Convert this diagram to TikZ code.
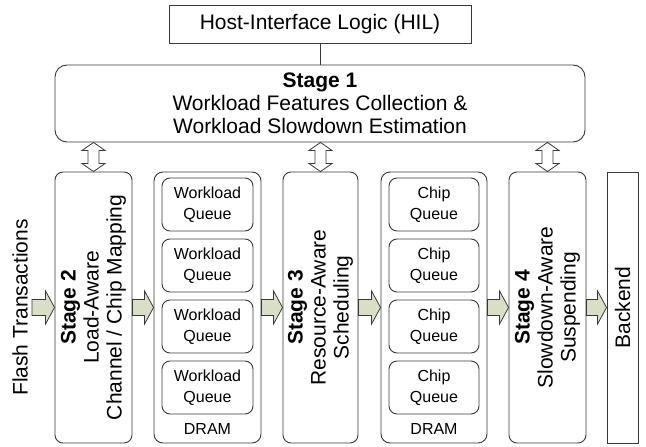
\documentclass[tikz,border=0pt]{standalone}
\usepackage{fontspec}
\setmainfont{Liberation Sans}
\usetikzlibrary{calc}
\definecolor{arrowgreen}{HTML}{D8DFC6}
\definecolor{edgegray}{HTML}{383838}

\tikzset{
  box/.style={draw=edgegray, line width=0.9pt, inner sep=0pt, align=center},
  stagebox/.style={box, rounded corners=8pt, minimum width=77pt, minimum height=271pt},
  drambox/.style={box, rounded corners=9pt, minimum width=107pt, minimum height=271pt},
  queuebox/.style={box, rounded corners=8pt, minimum width=91pt, minimum height=53pt,
    font=\fontsize{16}{21}\selectfont},
  vtext/.style={rotate=90, align=center, inner sep=0pt},
  fatarrow/.style={draw=edgegray, line width=0.8pt, fill=arrowgreen},
  twoway/.style={draw=edgegray, line width=0.8pt, fill=white},
}

\begin{document}
\begin{tikzpicture}[x=1pt, y=-1pt, font=\fontsize{21}{23}\selectfont]
\useasboundingbox (0,0) rectangle (646,447);

% top
\node[box, minimum width=302pt, minimum height=38pt] (hil) at (320,24) {Host-Interface Logic (HIL)};
\node[box, rounded corners=12pt, minimum width=530pt, minimum height=77pt] (stage1) at (320,103.5)
  {\textbf{Stage 1}\\Workload Features Collection \&\\Workload Slowdown Estimation};
\draw[edgegray, line width=0.9pt] (hil) -- (stage1);

% pipeline boxes
\node[stagebox] (stage2) at (93.5,307.5) {};
\node[drambox] (dram1) at (207.5,307.5) {};
\node[stagebox, minimum width=75pt] (stage3) at (320.5,307.5) {};
\node[drambox, minimum width=106pt] (dram2) at (434,307.5) {};
\node[stagebox] (stage4) at (547.5,307.5) {};
\node[box, minimum width=31pt, minimum height=271pt] (backend) at (622.5,307.5) {};

\node[vtext] (stage2text) at (stage2) {\textbf{Stage 2}\\Load-Aware\\Channel / Chip Mapping};
\node[vtext] (stage3text) at (stage3) {\textbf{Stage 3}\\Resource-Aware\\Scheduling};
\node[vtext] (stage4text) at (stage4) {\textbf{Stage 4}\\Slowdown-Aware\\Suspending};
\node[vtext] (backendtext) at (backend) {Backend};
\node[vtext] (flash) at (20,307.5) {Flash Transactions};
\coordinate (flashin) at (32,307.5);

% queues in DRAM
\foreach \i/\y in {1/204.5, 2/265.5, 3/326.5, 4/387.5} {
  \node[queuebox] (wq\i) at (207.5,\y) {Workload\\Queue};
  \node[queuebox, minimum width=90pt] (cq\i) at (434,\y) {Chip\\Queue};
}
\node[font=\fontsize{16}{19}\selectfont] (dram1label) at (207.5,428.5) {DRAM};
\node[font=\fontsize{16}{19}\selectfont] (dram2label) at (434,428.5) {DRAM};

% double arrows to stage 1
\foreach \s in {stage2, stage3, stage4}
  \draw[twoway] let \p1=(\s.north), \p2=(stage1.south) in
    (\x1,\y2) -- (\x1+11.5pt,\y2-8pt) -- (\x1+5.5pt,\y2-8pt) -- (\x1+5.5pt,\y1+8pt)
    -- (\x1+11.5pt,\y1+8pt) -- (\x1,\y1) -- (\x1-11.5pt,\y1+8pt) -- (\x1-5.5pt,\y1+8pt)
    -- (\x1-5.5pt,\y2-8pt) -- (\x1-11.5pt,\y2-8pt) -- cycle;

% flow arrows
\foreach \a/\b in {flashin/stage2.west, stage2.east/dram1.west, dram1.east/stage3.west,
                   stage3.east/dram2.west, dram2.east/stage4.west, stage4.east/backend.west}
  \draw[fatarrow] let \p1=(\a), \p2=(\b) in
    (\x1,\y1-8pt) -- (\x2-9pt,\y1-8pt) -- (\x2-9pt,\y1-16.5pt) -- (\x2,\y1)
    -- (\x2-9pt,\y1+16.5pt) -- (\x2-9pt,\y1+8pt) -- (\x1,\y1+8pt) -- cycle;
\end{tikzpicture}
\end{document}
